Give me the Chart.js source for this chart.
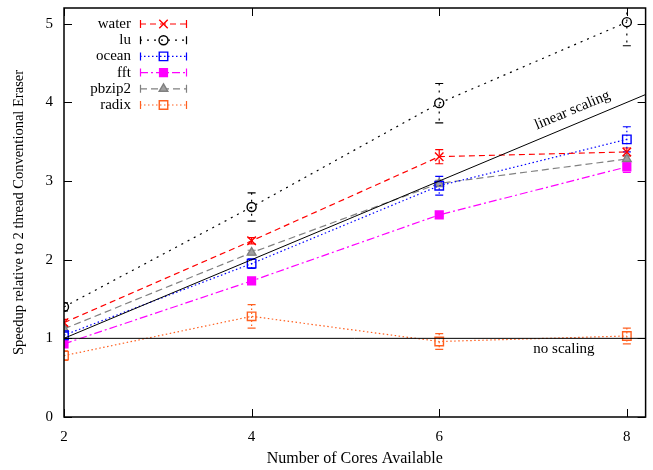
<!DOCTYPE html>
<html>
<head>
<meta charset="utf-8">
<script src="https://cdn.jsdelivr.net/npm/chart.js@4/dist/chart.umd.min.js"></script>
<style>
  html, body { margin: 0; padding: 0; background: #fff; }
  #wrap { width: 653px; height: 470px; }
</style>
</head>
<body>
<div id="wrap"><canvas id="speedup"></canvas></div>
<script>
// values
const cores = [2, 4, 6, 8];
const xTicks = [2, 4, 6, 8];
const yTicks = [0, 1, 2, 3, 4, 5];

const water = [1.20, 2.24, 3.31, 3.37];
const waterErr = [0.04, 0.04, 0.09, 0.05];
const lu = [1.40, 2.67, 3.99, 5.02];
const luErr = [0.05, 0.18, 0.25, 0.30];
const ocean = [1.04, 1.95, 2.94, 3.53];
const oceanErr = [0.04, 0.06, 0.12, 0.16];
const fft = [0.93, 1.73, 2.57, 3.18];
const fftErr = [0.02, 0.02, 0.02, 0.07];
const pbzip2 = [1.12, 2.09, 2.97, 3.28];
const pbzip2Err = [0.03, 0.03, 0.04, 0.04];
const radix = [0.78, 1.28, 0.96, 1.03];
const radixErr = [0.06, 0.15, 0.10, 0.10];

const linearX = [2, 8.2];
const linearY = [1, 4.1];
const noScaleX = [2, 8.2];
const noScaleY = [1, 1];

const SERIF = '"Liberation Serif", "DejaVu Serif", serif';

function pts(xs, ys) {
  return xs.map((x, i) => ({ x: x, y: ys[i] }));
}

function series(label, ys, errs, color, dash, style, radius, fill) {
  return {
    label: label,
    data: pts(cores, ys),
    errors: errs,
    borderColor: color,
    borderWidth: 1.2,
    borderDash: dash,
    pointStyle: style,
    pointRadius: radius,
    pointBorderColor: color,
    pointBackgroundColor: fill,
    pointBorderWidth: 1.4,
    inLegend: true
  };
}

const datasets = [
  { label: 'linear scaling', data: pts(linearX, linearY), borderColor: '#000', borderWidth: 1, pointRadius: 0 },
  { label: 'no scaling', data: pts(noScaleX, noScaleY), borderColor: '#000', borderWidth: 1, pointRadius: 0 },
  series('water', water, waterErr, '#ff0000', [6, 4], 'crossRot', 6, '#ff0000'),
  series('lu', lu, luErr, '#000000', [2, 5], 'circle', 4.5, 'rgba(0,0,0,0)'),
  series('ocean', ocean, oceanErr, '#0000ff', [1.5, 2.5], 'rect', 6, 'rgba(0,0,0,0)'),
  series('fft', fft, fftErr, '#ff00ff', [8, 3, 2, 3], 'rect', 5.5, '#ff00ff'),
  series('pbzip2', pbzip2, pbzip2Err, '#808080', [7, 4], 'triangle', 5, '#a0a0a0'),
  series('radix', radix, radixErr, '#ff6020', [1.5, 2.5], 'rect', 6, 'rgba(0,0,0,0)')
];

// error bars, frame with inward ticks, legend and line notes
const gnuplotLook = {
  id: 'gnuplotLook',
  beforeDatasetsDraw(chart) {
    const ctx = chart.ctx, xs = chart.scales.x, ys = chart.scales.y, a = chart.chartArea;
    ctx.save();
    ctx.beginPath();
    ctx.rect(a.left, a.top, a.right - a.left, a.bottom - a.top);
    ctx.clip();
    chart.data.datasets.forEach((ds) => {
      if (!ds.errors) return;
      ctx.strokeStyle = ds.borderColor;
      ctx.lineWidth = 1.2;
      ds.data.forEach((p, i) => {
        const px = xs.getPixelForValue(p.x);
        const hi = ys.getPixelForValue(p.y + ds.errors[i]);
        const lo = ys.getPixelForValue(p.y - ds.errors[i]);
        ctx.setLineDash(ds.borderDash);
        ctx.beginPath();
        ctx.moveTo(px, hi); ctx.lineTo(px, lo);
        ctx.stroke();
        ctx.setLineDash([]);
        ctx.beginPath();
        ctx.moveTo(px - 4, hi); ctx.lineTo(px + 4, hi);
        ctx.moveTo(px - 4, lo); ctx.lineTo(px + 4, lo);
        ctx.stroke();
      });
    });
    ctx.restore();
  },
  afterDraw(chart) {
    const ctx = chart.ctx, xs = chart.scales.x, ys = chart.scales.y, a = chart.chartArea;
    ctx.save();
    ctx.strokeStyle = '#000';
    ctx.lineWidth = 1.5;
    ctx.setLineDash([]);
    ctx.strokeRect(a.left, a.top, a.right - a.left, a.bottom - a.top);
    ctx.lineWidth = 1;
    ctx.beginPath();
    xTicks.forEach((v) => {
      const px = Math.round(xs.getPixelForValue(v)) + 0.5;
      ctx.moveTo(px, a.bottom); ctx.lineTo(px, a.bottom - 8);
      ctx.moveTo(px, a.top); ctx.lineTo(px, a.top + 8);
    });
    yTicks.forEach((v) => {
      const py = Math.round(ys.getPixelForValue(v)) + 0.5;
      ctx.moveTo(a.left, py); ctx.lineTo(a.left + 8, py);
      ctx.moveTo(a.right, py); ctx.lineTo(a.right - 8, py);
    });
    ctx.stroke();

    // notes on the reference lines
    ctx.fillStyle = '#000';
    ctx.font = '15px ' + SERIF;
    ctx.textAlign = 'center';
    ctx.textBaseline = 'middle';
    const ang = Math.atan2(ys.getPixelForValue(linearY[1]) - ys.getPixelForValue(linearY[0]),
                           xs.getPixelForValue(linearX[1]) - xs.getPixelForValue(linearX[0]));
    ctx.save();
    ctx.translate(xs.getPixelForValue(7.42), ys.getPixelForValue(3.9));
    ctx.rotate(ang);
    ctx.fillText('linear scaling', 0, 0);
    ctx.restore();
    ctx.fillText('no scaling', xs.getPixelForValue(7.33), ys.getPixelForValue(0.86));

    // legend: text on the left, sample on the right
    let row = 0;
    chart.data.datasets.forEach((ds) => {
      if (!ds.inLegend) return;
      const y = 24 + row * 16.2;
      ctx.fillStyle = '#000';
      ctx.textAlign = 'right';
      ctx.font = '15px ' + SERIF;
      ctx.fillText(ds.label, 131, y);
      ctx.strokeStyle = ds.borderColor;
      ctx.lineWidth = 1.2;
      ctx.setLineDash(ds.borderDash);
      ctx.beginPath();
      ctx.moveTo(140, y); ctx.lineTo(187, y);
      ctx.stroke();
      ctx.setLineDash([]);
      ctx.beginPath();
      ctx.moveTo(140.5, y - 4); ctx.lineTo(140.5, y + 4);
      ctx.moveTo(186.5, y - 4); ctx.lineTo(186.5, y + 4);
      ctx.stroke();
      ctx.lineWidth = ds.pointBorderWidth;
      ctx.fillStyle = ds.pointBackgroundColor;
      ctx.strokeStyle = ds.pointBorderColor;
      Chart.helpers.drawPoint(ctx, { pointStyle: ds.pointStyle, radius: ds.pointRadius, borderWidth: ds.pointBorderWidth, rotation: 0 }, 163.5, y);
      row++;
    });
    ctx.restore();
  }
};

function noPad(s) {
  s.paddingTop = 0; s.paddingBottom = 0; s.paddingLeft = 0; s.paddingRight = 0;
}

new Chart(document.getElementById('speedup'), {
  type: 'line',
  data: { datasets: datasets },
  options: {
    responsive: true,
    maintainAspectRatio: false,
    animation: false,
    layout: { padding: { top: 8, right: 6, left: 0, bottom: 0 } },
    plugins: { legend: { display: false }, tooltip: { enabled: false } },
    elements: { line: { tension: 0 } },
    scales: {
      x: {
        type: 'linear',
        min: 2, max: 8.2,
        afterBuildTicks: (s) => { s.ticks = xTicks.map((v) => ({ value: v })); },
        afterFit: (s) => { s.height = 53; noPad(s); },
        grid: { display: false, drawTicks: false },
        border: { display: false },
        ticks: { color: '#000', font: { family: SERIF, size: 15 }, padding: 11, maxRotation: 0 },
        title: { display: true, text: 'Number of Cores Available', color: '#000', font: { family: SERIF, size: 16 }, padding: { top: 0, bottom: 2 } }
      },
      y: {
        min: 0, max: 5.2,
        afterBuildTicks: (s) => { s.ticks = yTicks.map((v) => ({ value: v })); },
        afterFit: (s) => { s.width = 64; noPad(s); },
        grid: { display: false, drawTicks: false },
        border: { display: false },
        ticks: { color: '#000', font: { family: SERIF, size: 15 }, padding: 11 },
        title: { display: true, text: 'Speedup relative to 2 thread Conventional Eraser', color: '#000', font: { family: SERIF, size: 14.5 }, padding: { top: 10, bottom: 0 } }
      }
    }
  },
  plugins: [gnuplotLook]
});
</script>
</body>
</html>
